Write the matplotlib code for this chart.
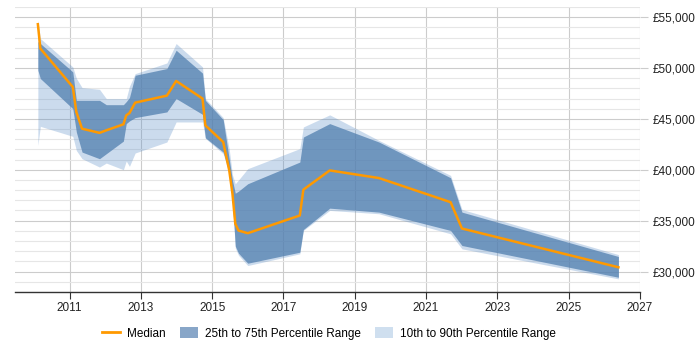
import matplotlib
matplotlib.use("Agg")
import matplotlib.pyplot as plt
from matplotlib.ticker import FuncFormatter, MultipleLocator
from matplotlib.patches import Patch
from matplotlib.lines import Line2D

plt.rcParams['font.family'] = ['Liberation Sans', 'DejaVu Sans']

years = [2010.11, 2010.18, 2011.09, 2011.19, 2011.35, 2011.84, 2012.03, 2012.51,
         2012.59, 2012.68, 2012.84, 2013.73, 2013.99, 2014.73, 2014.81, 2015.31,
         2015.48, 2015.57, 2015.65, 2015.74, 2016.0, 2017.46, 2017.56, 2018.30,
         2019.68, 2021.69, 2022.01, 2026.40]

median = [54310, 51920, 48140, 45680, 44040, 43630, 43880, 44470,
          45350, 45580, 46600, 47290, 48730, 47000, 44360, 42730,
          39940, 37650, 34690, 34030, 33770, 35510, 38050, 39940,
          39190, 36820, 34230, 30420]

p75 = [52600, 52410, 49620, 46830, 46830, 46830, 46400, 46400,
       46700, 47100, 49290, 49950, 51750, 49500, 46830, 44930,
       41030, 38960, 37700, 37900, 38630, 40760, 43220, 44540,
       42730, 39220, 35840, 31480]

p25 = [49780, 48970, 46010, 43710, 41740, 41090, 41580, 42820,
       44540, 44800, 45130, 45690, 47000, 45450, 43150, 41740,
       39800, 37000, 32500, 31800, 30820, 31900, 34130, 36230,
       35840, 34040, 32560, 29440]

p90 = [54700, 52900, 50110, 49000, 48080, 47910, 47000, 47000,
       47000, 48200, 49450, 50500, 52410, 50110, 47000, 45130,
       42000, 39500, 38630, 39000, 40110, 42080, 44210, 45400,
       42890, 39450, 36100, 31670]

p10 = [42400, 44270, 43290, 41900, 41090, 40270, 40660, 40010,
       40860, 40340, 41650, 42730, 44700, 44700, 43090, 41580,
       39600, 36800, 32300, 31600, 30590, 31740, 34040, 36010,
       35680, 33710, 32230, 29280]

x_ticks = [2011, 2013, 2015, 2017, 2019, 2021, 2023, 2025, 2027]

LIGHT = '#558ac6'
DARK = '#517faf'
ORANGE = '#ff9900'

fig = plt.figure(figsize=(7, 3.5), dpi=100)
ax = fig.add_axes([0.021, 0.166, 0.893, 0.814])

ax.fill_between(years, p10, p90, color=LIGHT, alpha=0.3, linewidth=0, zorder=2)
ax.fill_between(years, p25, p75, color=DARK, alpha=0.75, linewidth=0, zorder=3)
ax.plot(years, median, color=ORANGE, linewidth=1.8, zorder=4)

ax.set_xlim(2009.46, 2027.0)
ax.set_ylim(28000, 56000)
ax.set_xticks(x_ticks)
ax.set_xticklabels([str(t) for t in x_ticks])
ax.yaxis.set_major_locator(MultipleLocator(5000))
ax.yaxis.set_minor_locator(MultipleLocator(1000))
ax.yaxis.set_major_formatter(FuncFormatter(lambda v, p: '£{:,.0f}'.format(v)))
ax.yaxis.tick_right()
ax.yaxis.set_label_position('right')

ax.grid(True, which='major', axis='both', color='#cccccc', linewidth=0.8, zorder=0)
ax.grid(True, which='minor', axis='y', color='#e6e6e6', linewidth=0.8, zorder=0)
ax.set_axisbelow(True)

for s in ['top', 'left', 'right']:
    ax.spines[s].set_visible(False)
ax.spines['bottom'].set_color('#333333')
ax.spines['bottom'].set_linewidth(1.0)

ax.tick_params(axis='x', which='major', length=5, color='#333333', labelsize=8.5,
               labelcolor='#222222', pad=2)
ax.tick_params(axis='y', which='major', length=6, color='#cccccc', labelsize=8.5,
               labelcolor='#222222', pad=3)
ax.tick_params(axis='y', which='minor', length=0)

handles = [Line2D([0], [0], color=ORANGE, linewidth=2),
           Patch(facecolor='#88a6c8', edgecolor='none'),
           Patch(facecolor='#cfdfef', edgecolor='none')]
labels = ['Median', '25th to 75th Percentile Range', '10th to 90th Percentile Range']
fig.legend(handles, labels, loc='center', bbox_to_anchor=(0.47, 0.047), ncol=3,
           frameon=False, fontsize=8.5, handlelength=1.5, handleheight=1.0,
           columnspacing=1.2, handletextpad=0.6)

fig.savefig('out.png', dpi=100)
